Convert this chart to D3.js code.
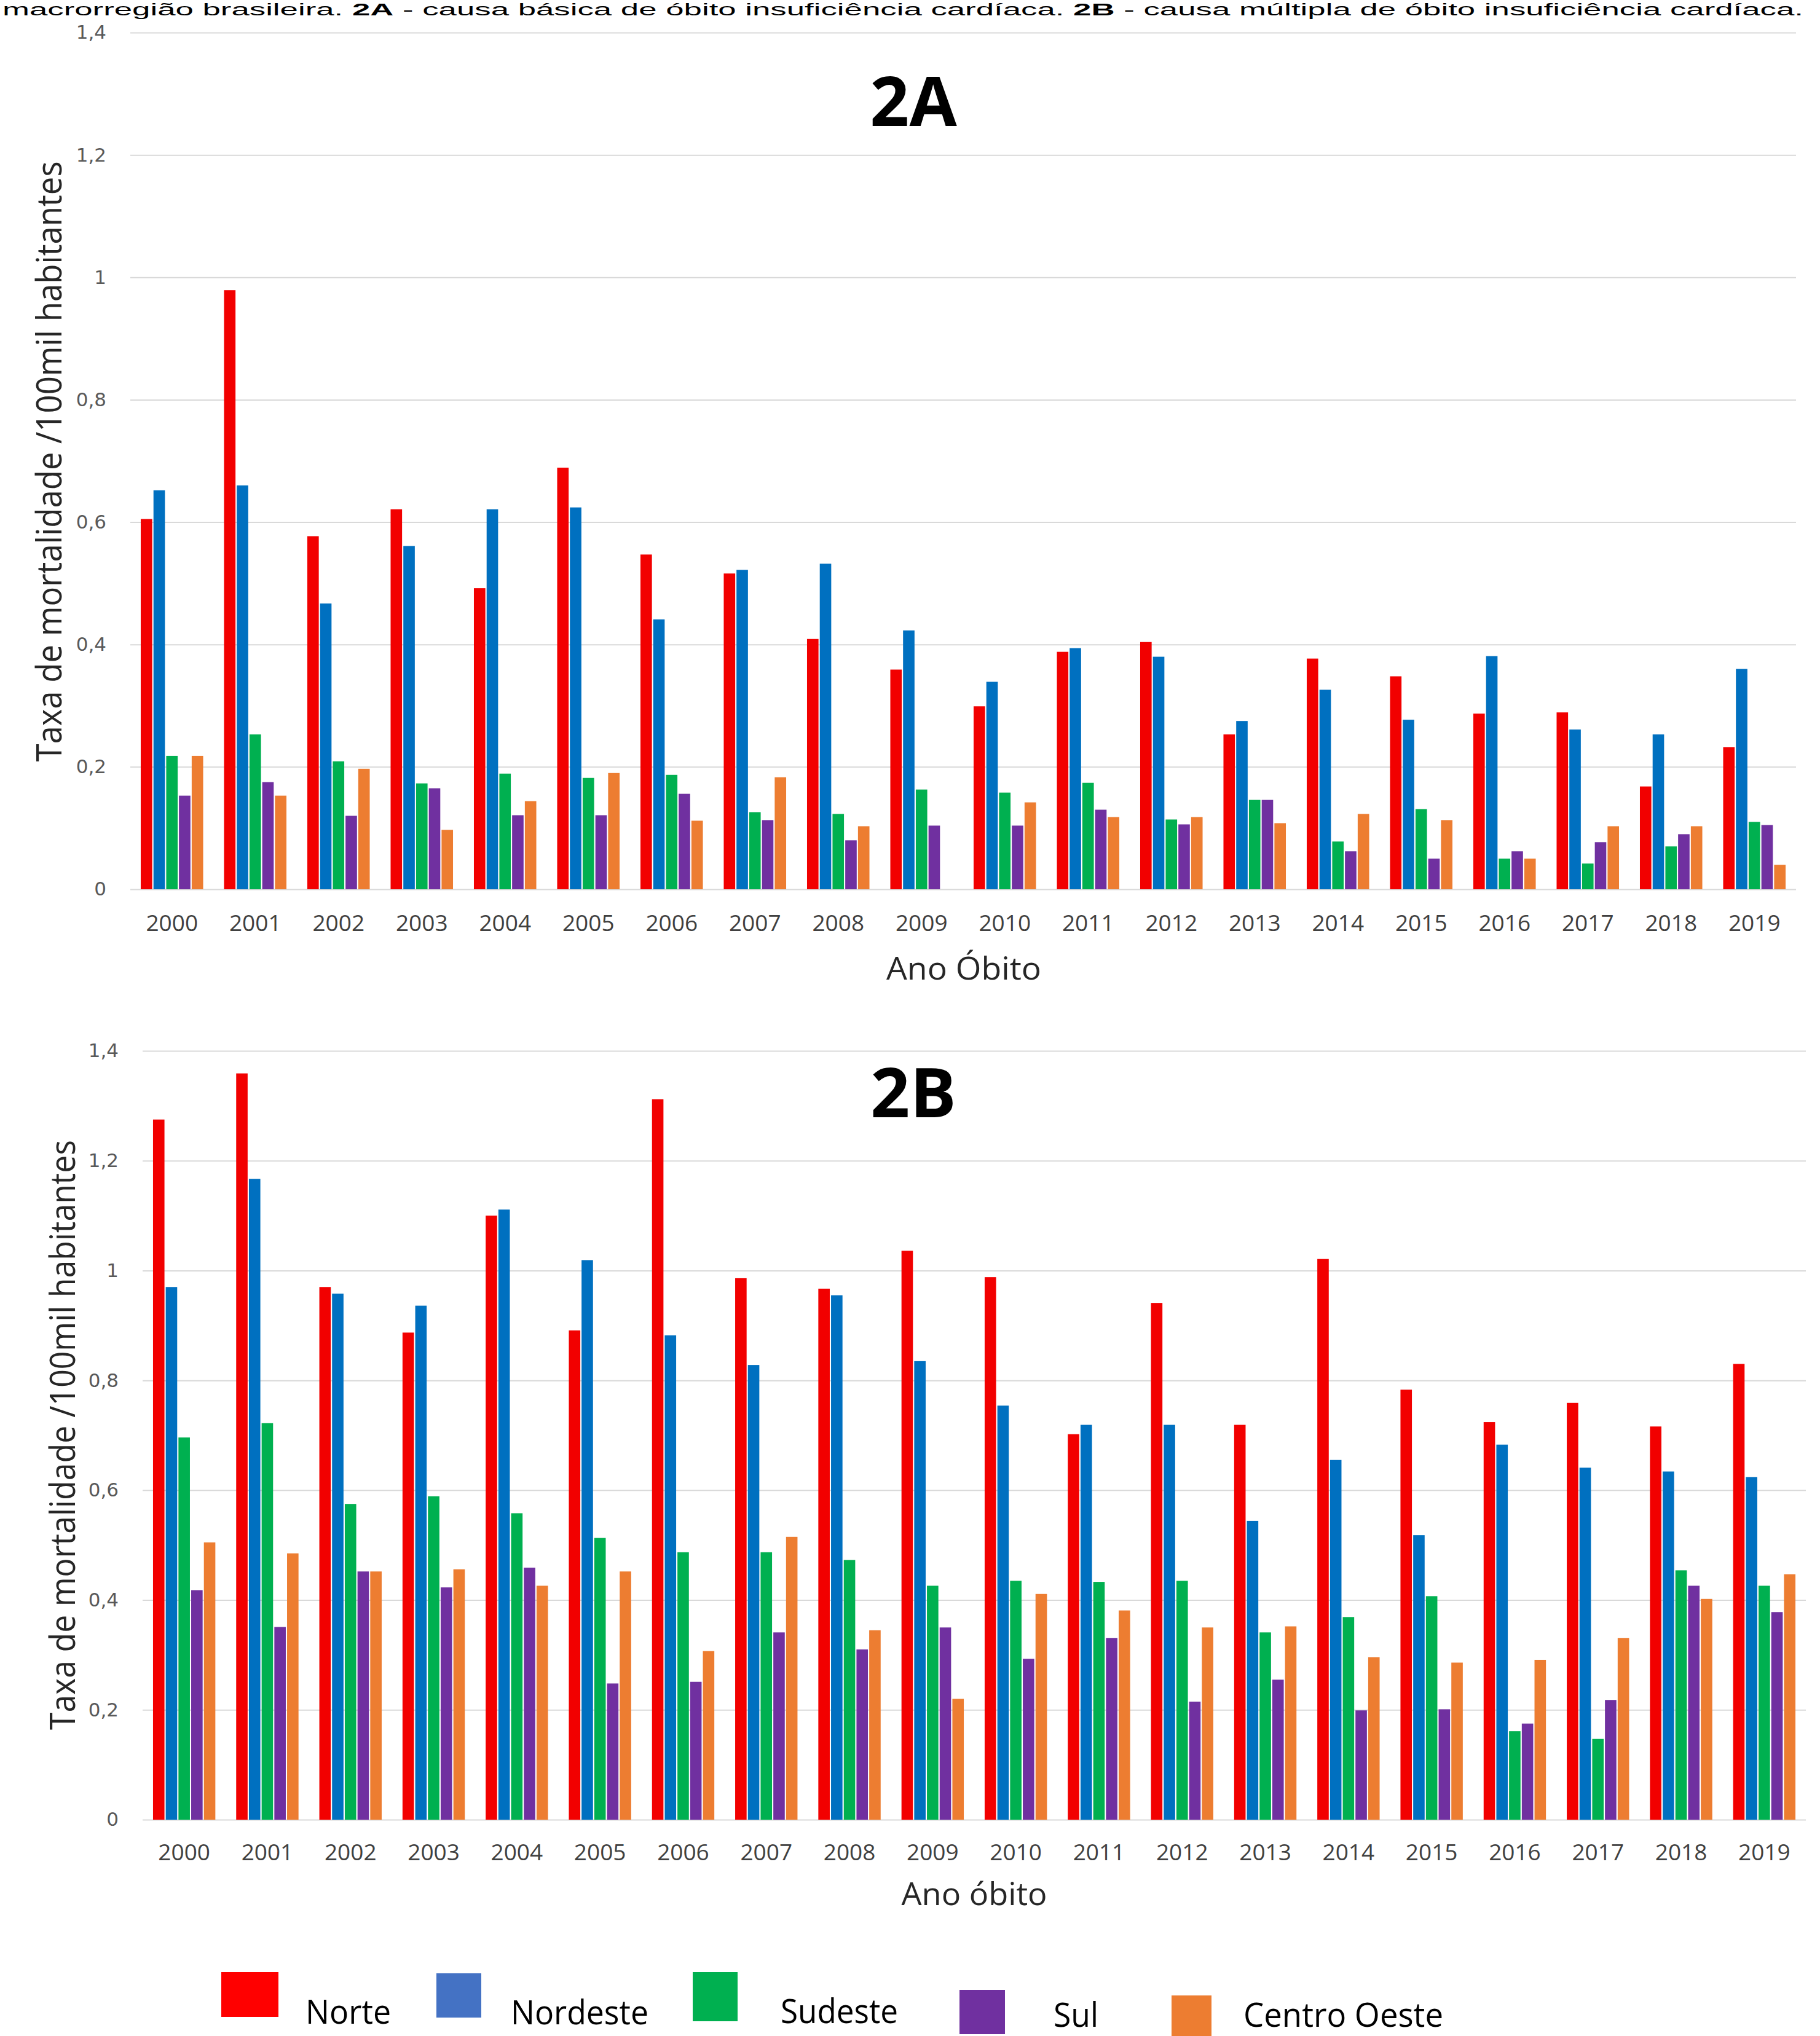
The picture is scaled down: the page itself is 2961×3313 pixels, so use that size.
<!DOCTYPE html>
<html>
<head>
<meta charset="utf-8">
<script src="https://cdn.jsdelivr.net/npm/d3@7/dist/d3.min.js"></script>
<style>
  html, body { margin: 0; padding: 0; background: #ffffff; }
  svg { display: block; }
</style>
</head>
<body>
<script>
// ---------------- DATA ----------------
const years = ["2000","2001","2002","2003","2004","2005","2006","2007","2008","2009",
               "2010","2011","2012","2013","2014","2015","2016","2017","2018","2019"];
const regions = ["Norte","Nordeste","Sudeste","Sul","Centro Oeste"];
const yTickValues = [0, 0.2, 0.4, 0.6, 0.8, 1, 1.2, 1.4];
const yTickLabels = ["0","0,2","0,4","0,6","0,8","1","1,2","1,4"];

// 2A - causa básica
const a_norte    = [0.605,0.979,0.577,0.621,0.492,0.689,0.547,0.516,0.409,0.359,0.299,0.388,0.404,0.253,0.377,0.348,0.287,0.289,0.168,0.232];
const a_nordeste = [0.652,0.660,0.467,0.561,0.621,0.624,0.441,0.522,0.532,0.423,0.339,0.394,0.380,0.275,0.326,0.277,0.381,0.261,0.253,0.360];
const a_sudeste  = [0.218,0.253,0.209,0.173,0.189,0.182,0.187,0.126,0.123,0.163,0.158,0.174,0.114,0.146,0.078,0.131,0.050,0.042,0.070,0.110];
const a_sul      = [0.153,0.175,0.120,0.165,0.121,0.121,0.156,0.113,0.080,0.104,0.104,0.130,0.106,0.146,0.062,0.050,0.062,0.077,0.090,0.105];
const a_centro   = [0.218,0.153,0.197,0.097,0.144,0.190,0.112,0.183,0.103,0.000,0.142,0.118,0.118,0.108,0.123,0.113,0.050,0.103,0.103,0.040];

// 2B - causa múltipla
const b_norte    = [1.275,1.359,0.970,0.887,1.100,0.891,1.312,0.986,0.967,1.036,0.988,0.702,0.941,0.719,1.021,0.783,0.724,0.759,0.716,0.830];
const b_nordeste = [0.970,1.167,0.958,0.936,1.111,1.019,0.882,0.828,0.955,0.835,0.754,0.719,0.719,0.544,0.655,0.518,0.683,0.641,0.634,0.624];
const b_sudeste  = [0.696,0.722,0.575,0.589,0.558,0.513,0.487,0.487,0.473,0.426,0.435,0.433,0.435,0.341,0.369,0.407,0.161,0.147,0.454,0.426];
const b_sul      = [0.418,0.351,0.452,0.423,0.459,0.248,0.251,0.341,0.310,0.350,0.293,0.331,0.215,0.255,0.199,0.201,0.175,0.218,0.426,0.378];
const b_centro   = [0.505,0.485,0.452,0.456,0.426,0.452,0.307,0.515,0.345,0.220,0.411,0.381,0.350,0.352,0.296,0.286,0.291,0.331,0.402,0.447];

const barColors    = ["#f20000","#0070c0","#00b050","#7030a0","#ed7d31"];
const legendColors = ["#ff0000","#4472c4","#00b050","#7030a0","#ed7d31"];

// ---------------- LAYOUT ----------------
const W = 2961, H = 3313;
const svg = d3.select("body").append("svg").attr("width", W).attr("height", H)
  .style("background", "#ffffff");

const panels = [
  { title: "2A", series: [a_norte,a_nordeste,a_sudeste,a_sul,a_centro],
    x: [212, 2922], y: [1447, 53], titleBase: 205, yearOff: 68,
    xTitle: "Ano Óbito", xTitleX: 1568, xTitleBase: 1594, xTitleLen: 252,
    yTitleX: 100, yTitleY: 751, yTitleLen: 977 },
  { title: "2B", series: [b_norte,b_nordeste,b_sudeste,b_sul,b_centro],
    x: [232, 2938], y: [2961, 1710], titleBase: 1818, yearOff: 66,
    xTitle: "Ano óbito", xTitleX: 1585, xTitleBase: 3100, xTitleLen: 237,
    yTitleX: 122, yTitleY: 2335, yTitleLen: 960 }
];

const yTitleText = "Taxa de mortalidade /100mil habitantes";

panels.forEach(p => {
  const g = svg.append("g");
  const x0 = d3.scaleBand().domain(years).range(p.x).paddingInner(0.22).paddingOuter(0.11);
  const x1 = d3.scaleBand().domain(regions).range([0, x0.bandwidth()]).padding(0.1);
  const y = d3.scaleLinear().domain([0, 1.4]).range(p.y);

  // gridlines + y tick labels
  const yAxis = d3.axisLeft(y)
    .tickValues(yTickValues)
    .tickFormat((d, i) => yTickLabels[i])
    .tickSize(-(p.x[1] - p.x[0]))
    .tickPadding(39);
  const ya = g.append("g").attr("transform", `translate(${p.x[0]},0)`).call(yAxis);
  ya.select(".domain").remove();
  ya.selectAll(".tick line").attr("stroke", "#d9d9d9").attr("stroke-width", 2);
  ya.selectAll(".tick text")
    .attr("fill", "#595959")
    .style("font-family", "'DejaVu Sans', 'Open Sans', sans-serif")
    .style("font-size", "31px");

  // bars
  const rows = years.map((yr, i) => ({ year: yr, vals: regions.map((r, k) => ({ r, k, v: p.series[k][i] })) }));
  const grp = g.append("g").selectAll("g").data(rows).join("g")
    .attr("transform", d => `translate(${x0(d.year)},0)`);
  grp.selectAll("rect").data(d => d.vals).join("rect")
    .attr("x", d => x1(d.r))
    .attr("width", x1.bandwidth())
    .attr("y", d => y(d.v))
    .attr("height", d => y(0) - y(d.v))
    .attr("fill", d => barColors[d.k]);

  // x axis (year labels)
  const xAxis = d3.axisBottom(x0).tickSize(0).tickPadding(0);
  const xa = g.append("g").attr("transform", `translate(0,${p.y[0]})`).call(xAxis);
  xa.select(".domain").remove();
  xa.selectAll(".tick text")
    .attr("y", p.yearOff).attr("dy", 0)
    .attr("fill", "#404040")
    .style("font-family", "'Open Sans', 'DejaVu Sans', sans-serif")
    .style("font-size", "37px");

  // panel title
  g.append("text")
    .attr("x", 1486).attr("y", p.titleBase)
    .attr("text-anchor", "middle")
    .style("font-family", "'Open Sans', 'Noto Sans', sans-serif")
    .style("font-weight", "bold")
    .style("font-size", "112px")
    .attr("fill", "#000000")
    .text(p.title);

  // x title
  g.append("text")
    .attr("x", p.xTitleX).attr("y", p.xTitleBase)
    .attr("text-anchor", "middle")
    .attr("textLength", p.xTitleLen).attr("lengthAdjust", "spacingAndGlyphs")
    .style("font-family", "'Open Sans', 'Noto Sans', sans-serif")
    .style("font-size", "52px")
    .attr("fill", "#262626")
    .text(p.xTitle);

  // y title
  g.append("text")
    .attr("transform", `translate(${p.yTitleX},${p.yTitleY}) rotate(-90)`)
    .attr("text-anchor", "middle")
    .attr("textLength", p.yTitleLen).attr("lengthAdjust", "spacingAndGlyphs")
    .style("font-family", "'Open Sans', 'Noto Sans', sans-serif")
    .style("font-size", "56px")
    .attr("fill", "#262626")
    .text(yTitleText);
});

// ---------------- TOP CAPTION ----------------
const cap = svg.append("text")
  .attr("x", 4).attr("y", 25)
  .attr("textLength", 2930).attr("lengthAdjust", "spacingAndGlyphs")
  .style("font-family", "'Liberation Sans', Arial, sans-serif")
  .style("font-size", "27px")
  .attr("fill", "#000000");
cap.append("tspan").text("macrorregião brasileira. ");
cap.append("tspan").style("font-weight", "bold").text("2A");
cap.append("tspan").text(" - causa básica de óbito insuficiência cardíaca. ");
cap.append("tspan").style("font-weight", "bold").text("2B");
cap.append("tspan").text(" - causa múltipla de óbito insuficiência cardíaca.");

// ---------------- LEGEND ----------------
const legendLayout = [
  { sx: 360,  sy: 3209, sw: 93, sh: 73, tx: 497,  tw: 139, tb: 3293 },
  { sx: 710,  sy: 3211, sw: 73, sh: 72, tx: 831,  tw: 224, tb: 3294 },
  { sx: 1127, sy: 3209, sw: 73, sh: 80, tx: 1270, tw: 191, tb: 3292 },
  { sx: 1561, sy: 3238, sw: 74, sh: 72, tx: 1714, tw: 73,  tb: 3298 },
  { sx: 1906, sy: 3247, sw: 65, sh: 66, tx: 2023, tw: 325, tb: 3298 }
];
const lg = svg.append("g").selectAll("g").data(regions).join("g");
lg.append("rect")
  .attr("x", (d, i) => legendLayout[i].sx)
  .attr("y", (d, i) => legendLayout[i].sy)
  .attr("width", (d, i) => legendLayout[i].sw)
  .attr("height", (d, i) => legendLayout[i].sh)
  .attr("fill", (d, i) => legendColors[i]);
lg.append("text")
  .attr("x", (d, i) => legendLayout[i].tx)
  .attr("y", (d, i) => legendLayout[i].tb)
  .attr("textLength", (d, i) => legendLayout[i].tw)
  .attr("lengthAdjust", "spacingAndGlyphs")
  .style("font-family", "'Open Sans', 'Noto Sans', sans-serif")
  .style("font-size", "54px")
  .attr("fill", "#000000")
  .text(d => d);
</script>
</body>
</html>
